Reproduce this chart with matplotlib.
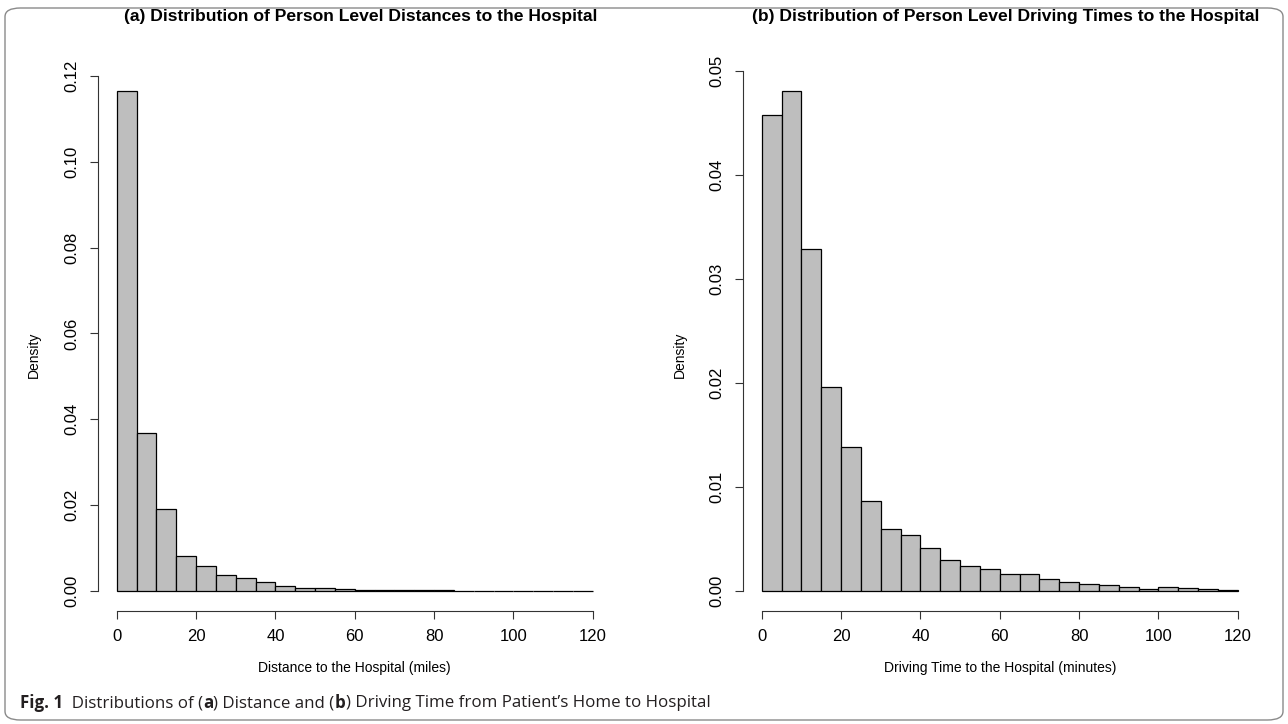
import matplotlib
matplotlib.use("Agg")
import matplotlib.pyplot as plt
from matplotlib.patches import FancyBboxPatch
from matplotlib import font_manager

# ---------------- data ----------------
bin_edges = [0, 5, 10, 15, 20, 25, 30, 35, 40, 45, 50, 55, 60,
             65, 70, 75, 80, 85, 90, 95, 100, 105, 110, 115, 120]

distance_density = [0.1165, 0.0369, 0.0192, 0.0082, 0.0058, 0.0037, 0.0031, 0.0022,
                    0.0012, 0.0008, 0.0007, 0.0005, 0.0002, 0.0003, 0.0002, 0.00016,
                    0.00016, 0.0001, 0.00008, 0.00008, 0.00008, 0.00006, 0.00008, 0.00005]

time_density = [0.0458, 0.0481, 0.0329, 0.0196, 0.0139, 0.0087, 0.0060, 0.0054,
                0.0041, 0.0030, 0.0024, 0.0021, 0.0016, 0.0016, 0.0012, 0.0009,
                0.00063, 0.0006, 0.0004, 0.00023, 0.00037, 0.0003, 0.00023, 0.00013]

x_ticks = [0, 20, 40, 60, 80, 100, 120]
dist_yticks = [0.00, 0.02, 0.04, 0.06, 0.08, 0.10, 0.12]
time_yticks = [0.00, 0.01, 0.02, 0.03, 0.04, 0.05]

titles = ["(a) Distribution of Person Level Distances to the Hospital",
          "(b) Distribution of Person Level Driving Times to the Hospital"]
xlabels = ["Distance to the Hospital (miles)",
           "Driving Time to the Hospital (minutes)"]
ylabel = "Density"

# ---------------- fonts ----------------
available = {f.name for f in font_manager.fontManager.ttflist}
base_font = "Liberation Sans" if "Liberation Sans" in available else "DejaVu Sans"
cap_font = None
for cand in ["Liberation Sans Narrow", "DejaVu Sans Condensed", "Open Sans", "Roboto"]:
    if cand in available:
        cap_font = cand
        break
if cap_font is None:
    cap_font = base_font
plt.rcParams["font.family"] = [base_font, "DejaVu Sans"]

W, H = 1288, 724
fig = plt.figure(figsize=(W / 100, H / 100), dpi=100)

# frame
frame = FancyBboxPatch((5 / W, 4 / H), (W - 10) / W, (H - 12) / H,
                       boxstyle="round,pad=0,rounding_size=0.012",
                       transform=fig.transFigure, facecolor="none",
                       edgecolor="#8a8a8a", linewidth=1.0, zorder=0)
fig.patches.append(frame)

def px_axes(x0, x1, ytop, ybot):
    return [x0 / W, 1 - ybot / H, (x1 - x0) / W, (ybot - ytop) / H]

panels = [
    (px_axes(97.7, 611.7, 71, 611), distance_density, dist_yticks, 34),
    (px_axes(742.7, 1256.7, 71, 611), time_density, time_yticks, 680),
]

for i, (rect, dens, yt, ylab_x) in enumerate(panels):
    ax = fig.add_axes(rect)
    ax.bar(bin_edges[:-1], dens, width=5, align="edge", color="#bebebe",
           edgecolor="black", linewidth=0.9)
    x0, x1 = bin_edges[0], bin_edges[-1]
    ax.set_xlim(x0 - 0.04 * (x1 - x0), x1 + 0.04 * (x1 - x0))
    ymax = max(dens)
    ax.set_ylim(-0.04 * ymax, 1.04 * ymax)
    for s in ["top", "right"]:
        ax.spines[s].set_visible(False)
    ax.spines["left"].set_bounds(yt[0], yt[-1])
    ax.spines["bottom"].set_bounds(x_ticks[0], x_ticks[-1])
    for s in ["left", "bottom"]:
        ax.spines[s].set_linewidth(0.8)
        ax.spines[s].set_color("#333333")
    ax.set_xticks(x_ticks)
    ax.set_xticklabels([str(v) for v in x_ticks])
    ax.set_yticks(yt)
    ax.set_yticklabels([f"{v:.2f}" for v in yt], rotation=90, va="center")
    ax.tick_params(direction="out", length=6, width=0.8, color="#333333",
                   labelsize=12, pad=7)
    ax.patch.set_visible(False)
    cx = (rect[0] + rect[2] / 2)
    fig.text(cx + 0.005, 1 - 16 / H, titles[i], ha="center", va="center",
             fontsize=12.6, fontweight="bold")
    fig.text(cx, 1 - 668 / H, xlabels[i], ha="center", va="center", fontsize=10)
    fig.text(ylab_x / W, 1 - 355 / H, ylabel, ha="center", va="center",
             rotation=90, fontsize=10)

# caption made of pieces (bold / regular)
caption = [("Fig. 1", "bold"), ("  Distributions of (", "normal"), ("a", "bold"),
           (") Distance and (", "normal"), ("b", "bold"),
           (") Driving Time from Patient\u2019s Home to Hospital", "normal")]
renderer = fig.canvas.get_renderer()
xpos = 20
for txt, wt in caption:
    t = fig.text(xpos / W, 1 - 703 / H, txt, ha="left", va="center",
                 fontsize=12.2, fontweight=wt, family=[cap_font, "DejaVu Sans"],
                 color="#231f20")
    bb = t.get_window_extent(renderer=renderer)
    xpos += bb.width

fig.savefig("out.png", dpi=100)
